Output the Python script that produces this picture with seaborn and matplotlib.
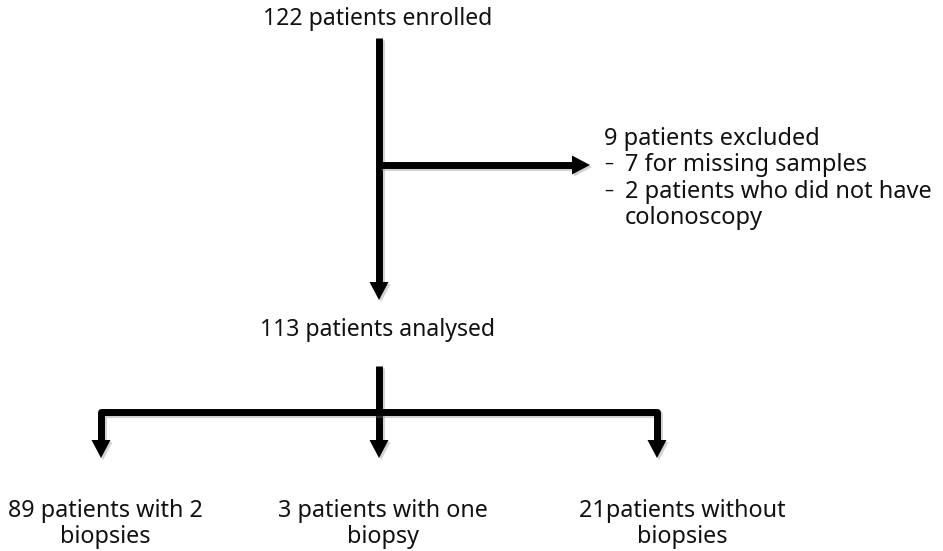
import matplotlib
matplotlib.use("Agg")
import matplotlib.pyplot as plt
import matplotlib.patheffects as pe
import seaborn as sns

# ---- data (flowchart content) ----
enrolled = 122
excluded_total = 9
excluded_reasons = ["7 for missing samples", "2 patients who did not have"]
excluded_cont = "colonoscopy"
analysed = 113
group_line1 = ["89 patients with 2", "3 patients with one", "21patients without"]
group_line2 = ["biopsies", "biopsy", "biopsies"]

sns.set_theme(style="white")
plt.rcParams["font.family"] = ["Noto Sans", "DejaVu Sans"]

W, H = 943, 551
fig = plt.figure(figsize=(W / 100, H / 100), dpi=100)
ax = fig.add_axes([0, 0, 1, 1])
ax.set_xlim(0, W)
ax.set_ylim(H, 0)
ax.axis("off")

LW = 5.0  # points (~7 px)
shadow = [pe.SimplePatchShadow(offset=(1.5, -1.5), shadow_rgbFace="0.5", alpha=0.35), pe.Normal()]
shadow_line = [pe.SimpleLineShadow(offset=(1.5, -1.5), shadow_color="0.5", alpha=0.35), pe.Normal()]
TC = "#111111"


def line(xs, ys):
    ax.plot(xs, ys, color="black", lw=LW, solid_capstyle="butt", solid_joinstyle="round",
            path_effects=shadow_line, zorder=2)


def head_down(x, tip, length=18, half=9.5):
    ax.fill([x - half, x + half, x], [tip - length, tip - length, tip], color="black",
            path_effects=shadow, zorder=3, lw=0)


def head_right(tip, y, length=18, half=9.5):
    ax.fill([tip - length, tip - length, tip], [y - half, y + half, y], color="black",
            path_effects=shadow, zorder=3, lw=0)


fs_top = 16.6
fs_ex = 17.0
fs_bot = 16.8
cx = 379

# top text
ax.text(cx - 1, 25, f"{enrolled} patients enrolled", ha="center", va="baseline", fontsize=fs_top, color=TC)

# main vertical arrow
line([cx, cx], [38, 284])
head_down(cx, 300)

# side arrow to exclusions
line([cx, 574], [165, 165])
head_right(590, 165)

ax.text(604, 145, f"{excluded_total} patients excluded", ha="left", va="baseline", fontsize=fs_ex, color=TC)
ys = [171, 198]
for y, reason in zip(ys, excluded_reasons):
    ax.text(604, y - 7, "\u2013", ha="left", va="center", fontsize=fs_ex * 0.75, color=TC)
    ax.text(625, y, reason, ha="left", va="baseline", fontsize=fs_ex, color=TC)
ax.text(625, 224, excluded_cont, ha="left", va="baseline", fontsize=fs_ex, color=TC)

# analysed
ax.text(cx - 2, 336, f"{analysed} patients analysed", ha="center", va="baseline", fontsize=fs_top, color=TC)

# split structure
xs = [101, cx, 657]
line([cx, cx], [366, 442])
line([xs[0], xs[0], xs[2], xs[2]], [442, 412, 412, 442])
for x in xs:
    head_down(x, 458)

label_x = [105, 383, 682]
for x, l1, l2 in zip(label_x, group_line1, group_line2):
    ax.text(x, 517, l1, ha="center", va="baseline", fontsize=fs_bot, color=TC)
    ax.text(x, 543, l2, ha="center", va="baseline", fontsize=fs_bot, color=TC)

fig.savefig("out.png", dpi=100)
